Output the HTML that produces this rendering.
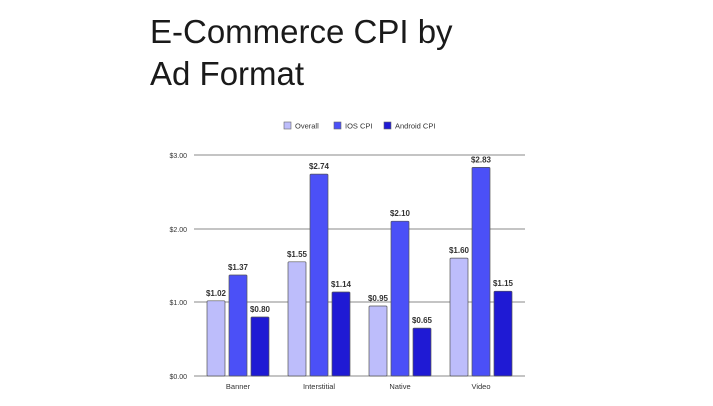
<!DOCTYPE html>
<html><head><style>
body{margin:0;background:#fff;width:713px;height:401px;overflow:hidden;font-family:"Liberation Sans",sans-serif}
</style></head><body>
<svg width="713" height="401" xmlns="http://www.w3.org/2000/svg" font-family="Liberation Sans, sans-serif">
<text x="150" y="43" font-size="33" fill="#1a1a1a">E-Commerce CPI by</text>
<text x="150" y="85" font-size="33" fill="#1a1a1a">Ad Format</text>
<g font-size="7.5" fill="#333">
<rect x="284" y="122" width="7" height="7" fill="#bdbdfb" stroke="#666" stroke-width="0.6"/><text x="295" y="128.5">Overall</text>
<rect x="334" y="122" width="7" height="7" fill="#4b50f7" stroke="#666" stroke-width="0.6"/><text x="345" y="128.5">IOS CPI</text>
<rect x="384" y="122" width="7" height="7" fill="#1f1ad4" stroke="#666" stroke-width="0.6"/><text x="395" y="128.5">Android CPI</text>
</g>
<g stroke="#888" stroke-width="1">
<line x1="194" y1="155" x2="525" y2="155"/><line x1="194" y1="229" x2="525" y2="229"/>
<line x1="194" y1="302" x2="525" y2="302"/><line x1="194" y1="376" x2="525" y2="376"/>
</g>
<g font-size="7" fill="#333" text-anchor="end">
<text x="187" y="158">$3.00</text><text x="187" y="232">$2.00</text><text x="187" y="305">$1.00</text><text x="187" y="379">$0.00</text>
</g>
<g stroke="#555" stroke-width="0.7">
<rect x="207" y="300.8" width="18" height="75.2" rx="1" fill="#bdbdfb"/>
<rect x="229" y="275.0" width="18" height="101.0" rx="1" fill="#4b50f7"/>
<rect x="251" y="317.0" width="18" height="59.0" rx="1" fill="#1f1ad4"/>
<rect x="288" y="261.8" width="18" height="114.2" rx="1" fill="#bdbdfb"/>
<rect x="310" y="174.1" width="18" height="201.9" rx="1" fill="#4b50f7"/>
<rect x="332" y="292.0" width="18" height="84.0" rx="1" fill="#1f1ad4"/>
<rect x="369" y="306.0" width="18" height="70.0" rx="1" fill="#bdbdfb"/>
<rect x="391" y="221.2" width="18" height="154.8" rx="1" fill="#4b50f7"/>
<rect x="413" y="328.1" width="18" height="47.9" rx="1" fill="#1f1ad4"/>
<rect x="450" y="258.1" width="18" height="117.9" rx="1" fill="#bdbdfb"/>
<rect x="472" y="167.4" width="18" height="208.6" rx="1" fill="#4b50f7"/>
<rect x="494" y="291.2" width="18" height="84.8" rx="1" fill="#1f1ad4"/>
</g>
<g font-size="8" font-weight="bold" fill="#333" text-anchor="middle">
<text x="216" y="295.8">$1.02</text><text x="238" y="270">$1.37</text><text x="260" y="312">$0.80</text>
<text x="297" y="256.8">$1.55</text><text x="319" y="169.1">$2.74</text><text x="341" y="287">$1.14</text>
<text x="378" y="301">$0.95</text><text x="400" y="216.2">$2.10</text><text x="422" y="323.1">$0.65</text>
<text x="459" y="253.1">$1.60</text><text x="481" y="162.4">$2.83</text><text x="503" y="286.2">$1.15</text>
</g>
<g font-size="7.5" fill="#333" text-anchor="middle">
<text x="238" y="389">Banner</text><text x="319" y="389">Interstitial</text><text x="400" y="389">Native</text><text x="481" y="389">Video</text>
</g>
</svg>
</body></html>
